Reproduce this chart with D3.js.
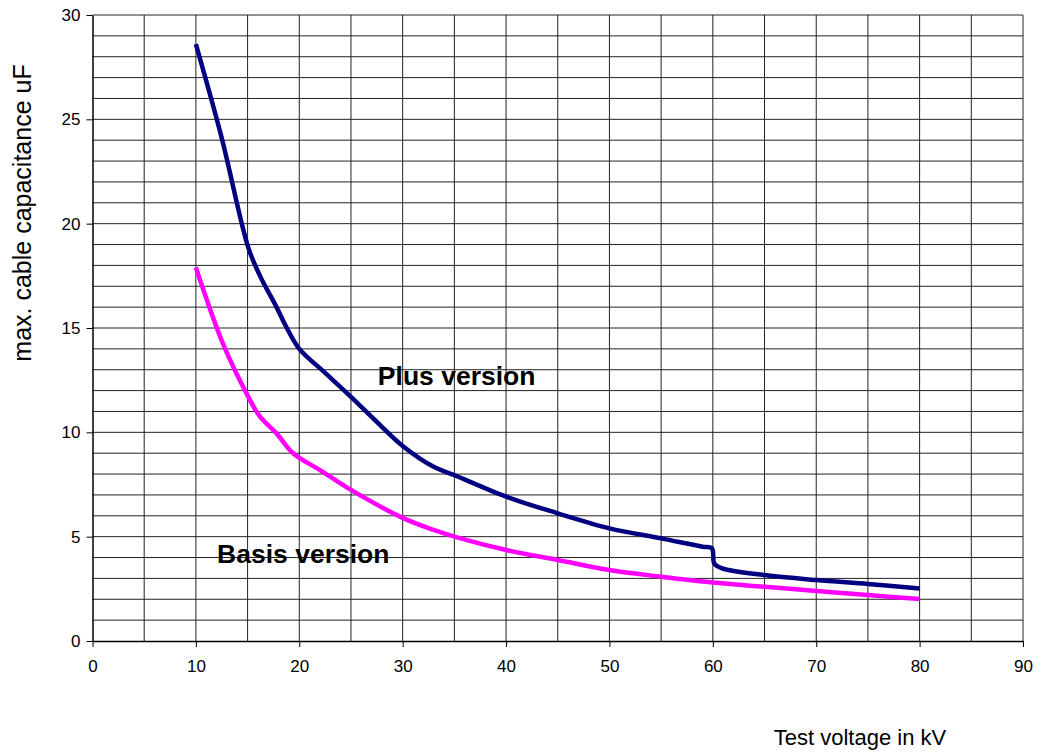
<!DOCTYPE html>
<html>
<head>
<meta charset="utf-8">
<script src="https://cdn.jsdelivr.net/npm/d3@7"></script>
<style>
  body { margin: 0; background: #fff; }
  svg { display: block; font-family: "Liberation Sans", Arial, sans-serif; }
</style>
</head>
<body>
<svg id="chart"></svg>
<script>
// values
var plusX  = [10, 12.5, 15.07, 16.2, 17.8, 18.8, 20, 22.5, 25, 27.5, 30, 33, 35, 40, 45, 50, 55, 59, 59.9, 60.15, 60.9, 65, 70, 75, 80];
var plusY  = [28.6, 24.1, 18.85, 17.5, 16.0, 15.0, 14.0, 12.85, 11.7, 10.5, 9.35, 8.35, 7.95, 6.92, 6.12, 5.4, 4.92, 4.52, 4.45, 3.7, 3.48, 3.16, 2.92, 2.73, 2.52];
var basisX = [10, 12.66, 15.07, 16.2, 17.8, 19.4, 22, 25, 30, 33, 35, 40, 45, 50, 55, 60, 65, 70, 75, 80];
var basisY = [17.9, 14.2, 11.7, 10.75, 9.95, 9.0, 8.19, 7.24, 5.9, 5.32, 5.0, 4.36, 3.88, 3.40, 3.08, 2.80, 2.60, 2.40, 2.20, 2.01];

var xTicks = [0, 10, 20, 30, 40, 50, 60, 70, 80, 90];
var yTicks = [0, 5, 10, 15, 20, 25, 30];

var labelText = ["Plus version", "Basis version"];
var labelX = [27.6, 12.05];
var labelY = [12.27, 3.74];

var W = 1045, H = 754;
var margin = {top: 15, right: 22, bottom: 113, left: 92.5},
    width = W - margin.left - margin.right,
    height = H - margin.top - margin.bottom;

var svg = d3.select('#chart').attr('width', W).attr('height', H);
var g = svg.append('g').attr('transform', 'translate(' + margin.left + ',' + margin.top + ')');

var x = d3.scaleLinear().domain([0, 90]).range([0, width]);
var y = d3.scaleLinear().domain([0, 30]).range([height, 0]);

// grid: every 1 on y, every 5 on x
g.append('g').selectAll('line').data(d3.range(1, 31)).enter().append('line')
    .attr('x1', 0).attr('x2', width)
    .attr('y1', function(d) { return y(d); }).attr('y2', function(d) { return y(d); })
    .style('stroke', '#222').style('stroke-width', 1);
g.append('g').selectAll('line').data(d3.range(5, 95, 5)).enter().append('line')
    .attr('y1', 0).attr('y2', height)
    .attr('x1', function(d) { return x(d); }).attr('x2', function(d) { return x(d); })
    .style('stroke', '#222').style('stroke-width', 1);

// axes
var xAxis = g.append('g').attr('transform', 'translate(0,' + height + ')')
    .call(d3.axisBottom(x).tickValues(xTicks).tickSize(6).tickSizeOuter(0).tickPadding(13));
var yAxis = g.append('g')
    .call(d3.axisLeft(y).tickValues(yTicks).tickSize(6).tickSizeOuter(0).tickPadding(6));
[xAxis, yAxis].forEach(function(a) {
    a.select('.domain').style('stroke', '#000').style('stroke-width', 1.5);
    a.selectAll('.tick line').style('stroke', '#000');
    a.selectAll('.tick text').style('font-size', '17px').style('fill', '#000')
        .style('font-family', '"Liberation Sans", Arial, sans-serif');
});

// curves
var line = d3.line()
    .x(function(d) { return x(d[0]); })
    .y(function(d) { return y(d[1]); })
    .curve(d3.curveCatmullRom.alpha(0.5));

g.append('path').datum(d3.zip(basisX, basisY))
    .attr('d', line).style('fill', 'none').style('stroke', '#ff00ff').style('stroke-width', 4.5);
g.append('path').datum(d3.zip(plusX, plusY))
    .attr('d', line).style('fill', 'none').style('stroke', '#000080').style('stroke-width', 4.5);

// series labels
g.selectAll('.lbl').data(d3.range(labelText.length)).enter().append('text')
    .attr('class', 'lbl')
    .attr('x', function(i) { return x(labelX[i]); })
    .attr('y', function(i) { return y(labelY[i]); })
    .style('font-size', '26.5px').style('font-weight', 'bold')
    .text(function(i) { return labelText[i]; });

// axis titles
svg.append('text')
    .attr('transform', 'translate(31,213) rotate(-90)')
    .attr('text-anchor', 'middle')
    .style('font-size', '25px')
    .text('max. cable capacitance uF');
svg.append('text')
    .attr('x', 860).attr('y', 745)
    .attr('text-anchor', 'middle')
    .style('font-size', '22px')
    .text('Test voltage in kV');
</script>
</body>
</html>
